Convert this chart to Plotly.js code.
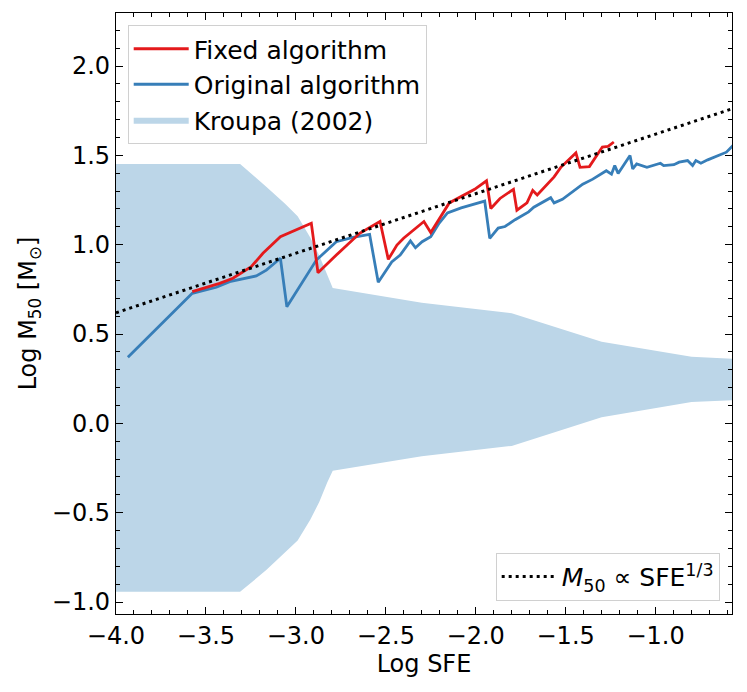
<!DOCTYPE html>
<html>
<head>
<meta charset="utf-8">
<script src="https://cdn.plot.ly/plotly-3.0.1.min.js"></script>
<style>
  body { margin: 0; background: #fff; }
  #chart { width: 747px; height: 692px; }
</style>
</head>
<body>
<div id="chart"></div>
<script>
// Kroupa (2002) band
var bandX     = [-4.0, -3.31, -3.163, -3.06, -2.99, -2.92, -2.87, -2.825, -2.795, -2.3, -1.8, -1.3, -0.8, -0.55];
var bandUpper = [1.452, 1.452, 1.323, 1.23, 1.16, 1.04, 0.94, 0.83, 0.758, 0.675, 0.617, 0.457, 0.373, 0.36];
var bandLower = [-0.943, -0.943, -0.82, -0.725, -0.655, -0.54, -0.44, -0.33, -0.265, -0.184, -0.126, 0.034, 0.119, 0.131];

// original algorithm (blue)
var origX = [-3.934, -3.576, -3.442, -3.368, -3.220, -3.164, -3.086, -3.050, -2.886, -2.775, -2.683, -2.590,
  -2.542, -2.467, -2.420, -2.363, -2.335, -2.298, -2.250, -2.203, -2.157, -2.081, -1.950, -1.922, -1.875,
  -1.837, -1.781, -1.706, -1.677, -1.583, -1.564, -1.518, -1.405, -1.349, -1.274, -1.245, -1.227, -1.208,
  -1.142, -1.127, -1.105, -1.048, -0.973, -0.955, -0.898, -0.869, -0.822, -0.794, -0.776, -0.748, -0.710,
  -0.653, -0.606, -0.569];
var origY = [0.370, 0.728, 0.762, 0.793, 0.825, 0.858, 0.924, 0.653, 0.914, 1.017, 1.041, 1.058,
  0.790, 0.904, 0.942, 1.021, 0.983, 1.017, 1.045, 1.121, 1.178, 1.206, 1.244, 1.036, 1.093,
  1.102, 1.140, 1.184, 1.210, 1.263, 1.234, 1.254, 1.339, 1.367, 1.414, 1.395, 1.443, 1.399,
  1.499, 1.424, 1.452, 1.433, 1.456, 1.443, 1.448, 1.462, 1.471, 1.443, 1.471, 1.456, 1.475,
  1.499, 1.518, 1.556];

// fixed algorithm (red)
var fixedX = [-3.576, -3.424, -3.350, -3.248, -3.183, -3.086, -2.914, -2.877, -2.775, -2.645, -2.532, -2.486,
  -2.438, -2.401, -2.288, -2.250, -2.147, -2.100, -2.006, -1.940, -1.916, -1.865, -1.790, -1.771, -1.715,
  -1.683, -1.658, -1.564, -1.527, -1.443, -1.420, -1.368, -1.296, -1.264, -1.232];
var fixedY = [0.737, 0.784, 0.812, 0.877, 0.952, 1.045, 1.120, 0.843, 0.942, 1.064, 1.130, 0.918,
  0.998, 1.036, 1.130, 1.068, 1.234, 1.259, 1.310, 1.358, 1.203, 1.259, 1.310, 1.193, 1.234,
  1.304, 1.278, 1.380, 1.433, 1.514, 1.433, 1.437, 1.547, 1.550, 1.575];

// M50 ~ SFE^(1/3) reference line, end points
var scaleX = [-4.0, -0.55];
var scaleY = [0.619, 1.769];

var blueFill = 'rgb(188,214,232)';

var data = [
  {
    x: bandX, y: bandLower, type: 'scatter', mode: 'lines',
    line: {width: 0, color: blueFill}, showlegend: false, hoverinfo: 'skip'
  },
  {
    x: bandX, y: bandUpper, type: 'scatter', mode: 'lines',
    fill: 'tonexty', fillcolor: blueFill,
    line: {width: 0, color: blueFill},
    name: 'Kroupa (2002)', legendrank: 3
  },
  {
    x: origX, y: origY, type: 'scatter', mode: 'lines',
    line: {color: '#377eb8', width: 2.8},
    name: 'Original algorithm', legendrank: 2
  },
  {
    x: fixedX, y: fixedY, type: 'scatter', mode: 'lines',
    line: {color: '#e41a1c', width: 2.8},
    name: 'Fixed algorithm', legendrank: 1
  },
  {
    x: scaleX, y: scaleY, type: 'scatter', mode: 'lines',
    line: {color: 'black', width: 3, dash: '3px,4px'},
    name: '<i>M</i><sub>50</sub> ∝ SFE<sup>1/3</sup>',
    legend: 'legend2'
  }
];

var axisCommon = {
  showgrid: false,
  zeroline: false,
  showline: true,
  linecolor: 'black',
  linewidth: 1.3,
  mirror: 'allticks',
  ticks: 'inside',
  ticklen: 7,
  tickwidth: 1.3,
  tickcolor: 'black',
  tickformat: '.1f',
  tickfont: {size: 24, color: 'black'},
  minor: {ticks: 'inside', ticklen: 4, tickwidth: 1, tickcolor: 'black', dtick: 0.1}
};

var layout = {
  width: 747,
  height: 692,
  margin: {l: 116, r: 15, t: 13, b: 78},
  paper_bgcolor: 'white',
  plot_bgcolor: 'white',
  font: {family: 'DejaVu Sans', color: 'black'},
  xaxis: Object.assign({}, axisCommon, {
    range: [-4.0, -0.575],
    tick0: -4, dtick: 0.5,
    title: {text: 'Log SFE', font: {size: 24}, standoff: 6}
  }),
  yaxis: Object.assign({}, axisCommon, {
    range: [-1.067, 2.297],
    tick0: 0, dtick: 0.5,
    title: {text: 'Log M<sub>50</sub> [M<sub>⊙</sub>]', font: {size: 24}, standoff: 8}
  }),
  legend: {
    x: 0.019, y: 0.98, xanchor: 'left', yanchor: 'top',
    traceorder: 'normal',
    bgcolor: 'rgba(255,255,255,0.8)',
    bordercolor: '#d0d0d0', borderwidth: 1,
    font: {size: 25},
    itemwidth: 55,
    tracegroupgap: 0
  },
  legend2: {
    x: 0.98, y: 0.022, xanchor: 'right', yanchor: 'bottom',
    bgcolor: 'rgba(255,255,255,0.8)',
    bordercolor: '#d0d0d0', borderwidth: 1,
    font: {size: 25},
    itemwidth: 55
  },
  showlegend: true
};

Plotly.newPlot('chart', data, layout, {displayModeBar: false});
</script>
</body>
</html>
